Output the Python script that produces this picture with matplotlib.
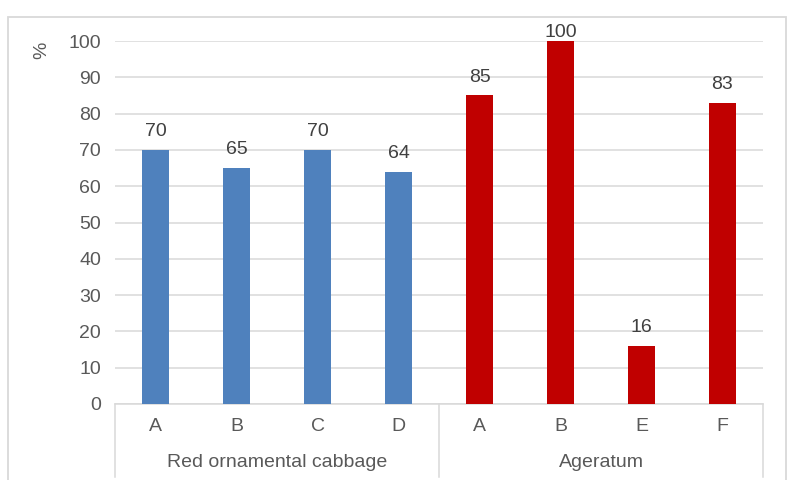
import numpy as np
import matplotlib.pyplot as plt
import matplotlib.patches as patches
from matplotlib.lines import Line2D

plt.rcParams["font.family"] = ["Liberation Sans", "DejaVu Sans"]

groups = ["Red ornamental cabbage", "Ageratum"]
labels_cabbage = ["A", "B", "C", "D"]
values_cabbage = [70, 65, 70, 64]
labels_ageratum = ["A", "B", "E", "F"]
values_ageratum = [85, 100, 16, 83]

blue = "#4F81BD"
red = "#C00000"
txt = "#595959"
grid = "#D9D9D9"

fig = plt.figure(figsize=(7.93, 4.8), dpi=100)
W, H = 793.0, 480.0
ax = fig.add_axes([115 / W, 1 - 404 / H, 648 / W, 363 / H])

cats = labels_cabbage + labels_ageratum
vals = values_cabbage + values_ageratum
cols = [blue] * len(labels_cabbage) + [red] * len(labels_ageratum)
x = np.arange(len(cats))

ax.bar(x, vals, width=0.33, color=cols, zorder=3)
for xi, v in zip(x, vals):
    # labels near the top are pushed down so they stay inside the chart
    ax.text(xi, min(v + 2.7, 100.0), str(v), ha="center", va="bottom",
            fontsize=14, color="#404040", zorder=4, clip_on=False)

ax.set_xlim(-0.5, len(cats) - 0.5)
ax.set_ylim(0, 100)
ax.set_yticks(np.arange(0, 101, 10))
ax.yaxis.grid(True, color=grid, linewidth=1.1)
ax.set_axisbelow(True)
for s in ax.spines.values():
    s.set_visible(False)
ax.spines["bottom"].set_visible(True)
ax.spines["bottom"].set_color(grid)
ax.spines["bottom"].set_linewidth(1.1)
ax.tick_params(axis="y", length=0, labelsize=14, labelcolor=txt, pad=10)
ax.set_xticks(x)
ax.set_xticklabels(cats)
ax.tick_params(axis="x", length=0, labelsize=14, labelcolor=txt, pad=10)

# group labels and separators below the axis
ngroup = [len(labels_cabbage), len(labels_ageratum)]
start = 0
for g, n in zip(groups, ngroup):
    ax.text((start + start + n - 1) / 2, -16.2, g, ha="center", va="center",
            fontsize=14, color=txt, transform=ax.transData, clip_on=False)
    start += n
for b in [-0.5, len(labels_cabbage) - 0.5, len(cats) - 0.5]:
    ax.add_line(Line2D([b, b], [0, -20], color=grid, linewidth=1.1, clip_on=False))

ax.set_ylabel("%", fontsize=14, color=txt, rotation=90)
ax.yaxis.set_label_coords(-0.1, 0.975)

# outer chart border
fig.patches.append(patches.Rectangle((8 / W, -0.05), 778 / W, 1 - 17 / H + 0.05,
                                     transform=fig.transFigure, fill=False,
                                     edgecolor=grid, linewidth=1.3))

fig.savefig("out.png", dpi=100)
